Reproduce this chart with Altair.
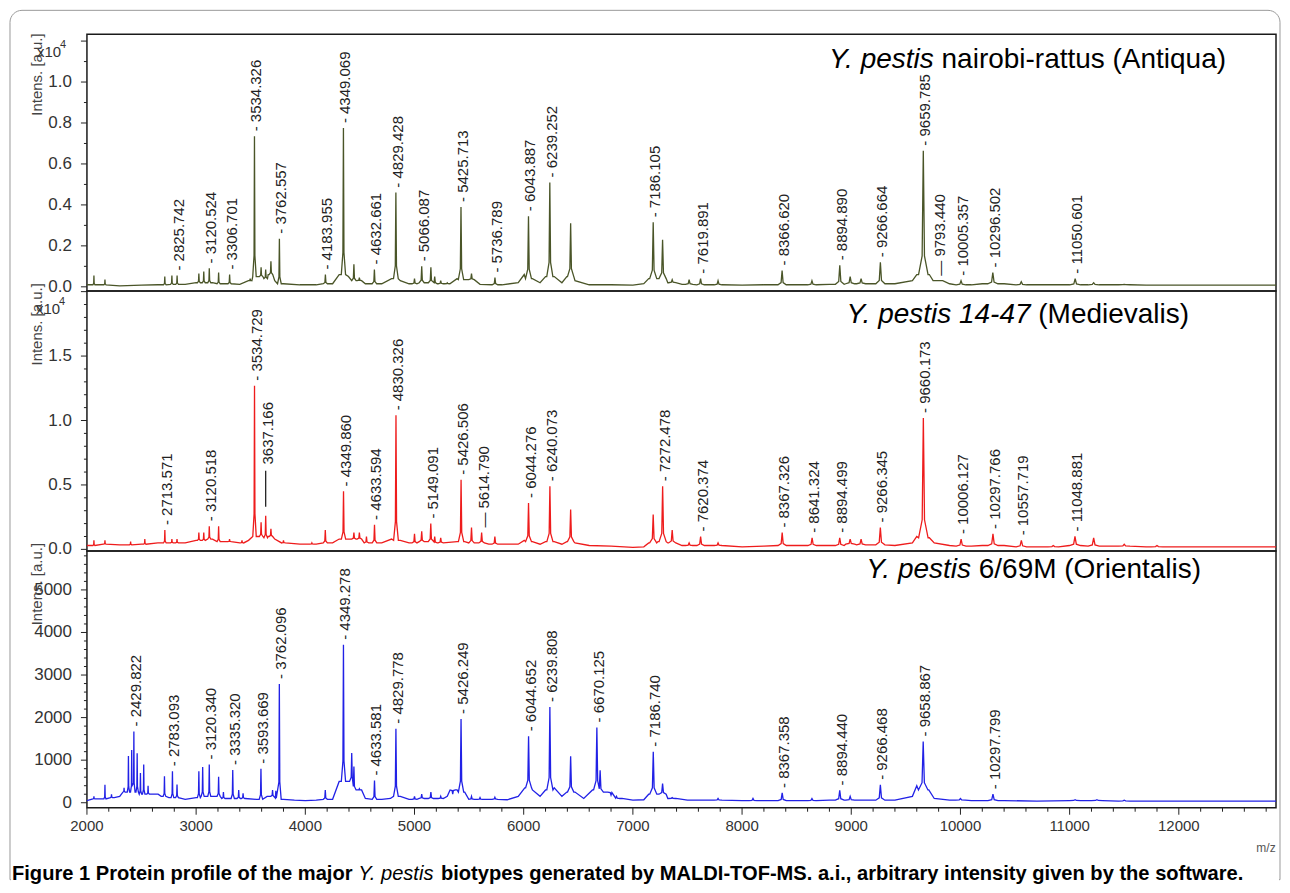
import altair as alt
import pandas as pd

FONT = "Liberation Sans, Arial, Helvetica, sans-serif"
X_DOMAIN = [2000, 12890]
W = 1190

# ---------------- Panel 1: Antiqua (x10^4 a.u.) ----------------
P1_PEAK_MZ = [2064, 2165, 2713, 2778, 2825.742, 3025, 3070, 3120.524, 3206, 3306.701,
              3495, 3534.326, 3595, 3637, 3685, 3762.557, 4183.955, 4349.069, 4445, 4495,
              4632.661, 4829.428, 5000, 5066.087, 5150, 5185, 5240, 5300, 5425.713, 5522,
              5736.789, 6043.887, 6239.252, 6430, 7186.105, 7272, 7360, 7515, 7619.891, 7780,
              8366.620, 8640, 8894.890, 8990, 9090, 9266.664, 9659.785, 9793.440, 10005.357,
              10296.502, 10557, 11050.601, 11220, 11500]
P1_PEAK_I = [0.055, 0.035, 0.05, 0.055, 0.055, 0.065, 0.075, 0.09, 0.07, 0.06,
             0.04, 0.735, 0.095, 0.085, 0.125, 0.235, 0.06, 0.775, 0.11, 0.045,
             0.085, 0.46, 0.04, 0.1, 0.095, 0.05, 0.03, 0.02, 0.39, 0.065,
             0.045, 0.345, 0.51, 0.31, 0.315, 0.23, 0.035, 0.035, 0.04, 0.03,
             0.08, 0.03, 0.105, 0.05, 0.04, 0.12, 0.665, 0.03, 0.03,
             0.07, 0.025, 0.04, 0.02, 0.012]
P1_BASE_MZ = [2000, 2150, 2300, 2500, 2650, 2900, 3000, 3150, 3250, 3400, 3480, 3580, 3620,
              3660, 3720, 3800, 3950, 4100, 4250, 4310, 4395, 4470, 4550, 4700, 4790, 4870,
              4950, 5100, 5250, 5390, 5460, 5600, 5800, 5950, 6005, 6080, 6150, 6200, 6280,
              6350, 6395, 6470, 6600, 6800, 7000, 7100, 7145, 7230, 7320, 7450, 7700, 8000,
              8200, 8500, 8800, 9000, 9200, 9400, 9560, 9600, 9715, 9760, 9900, 10100, 10200,
              10400, 10700, 11000, 11300, 11700, 12100, 12500, 12890]
P1_BASE_I = [0.01, 0.01, 0.005, 0.008, 0.01, 0.012, 0.02, 0.02, 0.015, 0.012, 0.03, 0.05, 0.04,
             0.06, 0.03, 0.015, 0.01, 0.01, 0.015, 0.06, 0.05, 0.03, 0.015, 0.015, 0.04, 0.03,
             0.015, 0.02, 0.015, 0.04, 0.035, 0.012, 0.01, 0.02, 0.06, 0.04, 0.02, 0.05, 0.05,
             0.02, 0.05, 0.03, 0.01, 0.01, 0.008, 0.015, 0.04, 0.04, 0.02, 0.012, 0.01, 0.008,
             0.01, 0.01, 0.012, 0.015, 0.015, 0.015, 0.03, 0.06, 0.06, 0.03, 0.015, 0.01, 0.015,
             0.015, 0.01, 0.01, 0.01, 0.008, 0.008, 0.008, 0.008]
P1_LABELS = ["2825.742", "3120.524", "3306.701", "3534.326", "3762.557", "4183.955",
             "4349.069", "4632.661", "4829.428", "5066.087", "5425.713", "5736.789",
             "6043.887", "6239.252", "7186.105", "7619.891", "8366.620", "8894.890",
             "9266.664", "9659.785", "9793.440", "10005.357", "10296.502", "11050.601"]
P1_YTICKS = [0.0, 0.2, 0.4, 0.6, 0.8, 1.0, 1.2]
P1_YTICK_TEXT = ["0.0", "0.2", "0.4", "0.6", "0.8", "1.0", ""]
P1_YMINOR = [0.1, 0.3, 0.5, 0.7, 0.9, 1.1]

# ---------------- Panel 2: Medievalis (x10^4 a.u.) ----------------
P2_PEAK_MZ = [2064, 2165, 2400, 2530, 2713.571, 2778, 2825, 3025, 3070, 3120.518, 3206, 3306,
              3420, 3534.729, 3595, 3637.166, 3685, 3800, 4060, 4183, 4349.860, 4445, 4495,
              4560, 4633.594, 4830.326, 5000, 5066, 5149.091, 5185, 5240, 5426.506, 5522,
              5614.790, 5736, 6044.276, 6240.073, 6430, 7186, 7272.478, 7360, 7515, 7620.374,
              7780, 8367.326, 8641.324, 8894.499, 8990, 9090, 9266.345, 9660.173, 10006.127,
              10297.766, 10557.719, 10850, 11048.881, 11220, 11500, 11800]
P2_PEAK_I = [0.07, 0.07, 0.06, 0.08, 0.15, 0.08, 0.08, 0.13, 0.13, 0.18, 0.18, 0.08,
             0.07, 1.27, 0.21, 0.26, 0.16, 0.07, 0.05, 0.15, 0.45, 0.13, 0.13,
             0.1, 0.19, 1.04, 0.12, 0.14, 0.2, 0.1, 0.09, 0.54, 0.17,
             0.13, 0.1, 0.36, 0.49, 0.31, 0.27, 0.49, 0.15, 0.05, 0.1,
             0.05, 0.13, 0.09, 0.09, 0.08, 0.08, 0.17, 1.02, 0.08,
             0.12, 0.07, 0.03, 0.1, 0.09, 0.04, 0.03]
P2_BASE_MZ = [2000, 2150, 2300, 2500, 2650, 2900, 3000, 3150, 3260, 3400, 3480, 3580, 3620,
              3660, 3720, 3800, 3950, 4100, 4250, 4310, 4395, 4470, 4550, 4700, 4790, 4870,
              4950, 5100, 5250, 5390, 5460, 5560, 5680, 5800, 5950, 6005, 6080, 6150, 6200,
              6280, 6350, 6395, 6470, 6600, 6800, 7000, 7100, 7145, 7230, 7320, 7450, 7700,
              8000, 8200, 8500, 8800, 9000, 9150, 9400, 9560, 9600, 9715, 9760, 9900, 10100,
              10200, 10400, 10700, 11000, 11300, 11700, 12100, 12500, 12890]
P2_BASE_I = [0.03, 0.04, 0.035, 0.04, 0.05, 0.05, 0.07, 0.08, 0.06, 0.05, 0.07, 0.1, 0.09,
             0.1, 0.08, 0.05, 0.04, 0.04, 0.05, 0.08, 0.08, 0.08, 0.05, 0.05, 0.08, 0.07,
             0.05, 0.06, 0.05, 0.06, 0.06, 0.05, 0.04, 0.04, 0.04, 0.07, 0.06, 0.04, 0.06,
             0.06, 0.04, 0.06, 0.05, 0.03, 0.025, 0.015, 0.02, 0.05, 0.06, 0.05, 0.03, 0.03,
             0.02, 0.025, 0.03, 0.03, 0.04, 0.035, 0.03, 0.05, 0.1, 0.09, 0.05, 0.03, 0.025,
             0.03, 0.03, 0.02, 0.03, 0.025, 0.02, 0.02, 0.02, 0.02]
P2_LABELS = ["2713.571", "3120.518", "3534.729", "3637.166", "4349.860", "4633.594",
             "4830.326", "5149.091", "5426.506", "5614.790", "6044.276", "6240.073",
             "7272.478", "7620.374", "8367.326", "8641.324", "8894.499", "9266.345",
             "9660.173", "10006.127", "10297.766", "10557.719", "11048.881"]
P2_LEADER = {"3637.166": (0.33, 0.62)}   # leader line from / label start (x10^4 a.u.)
P2_YTICKS = [0.0, 0.5, 1.0, 1.5, 2.0]
P2_YTICK_TEXT = ["0.0", "0.5", "1.0", "1.5", ""]
P2_YMINOR = [0.1, 0.2, 0.3, 0.4, 0.6, 0.7, 0.8, 0.9, 1.1, 1.2, 1.3, 1.4, 1.6, 1.7, 1.8, 1.9]

# ---------------- Panel 3: Orientalis (a.u.) ----------------
P3_PEAK_MZ = [2064, 2165, 2225, 2340, 2380, 2410, 2429.822, 2460, 2490, 2520, 2560, 2640,
              2710, 2783.093, 2825, 3025, 3060, 3120.340, 3206, 3250, 3335.320, 3390, 3430,
              3593.669, 3700, 3730, 3762.096, 4183, 4349.278, 4425, 4445, 4495, 4633.581,
              4829.778, 5000, 5066, 5150, 5240, 5350, 5426.249, 5522, 5600, 5736, 6044.652,
              6239.808, 6430, 6670.125, 6700, 6800, 6850, 7186.740, 7272, 7360, 7780, 8100,
              8367.358, 8640, 8894.440, 8990, 9266.468, 9658.867, 10000, 10297.799, 11050,
              11250, 11500]
P3_PEAK_I = [150, 420, 200, 350, 1100, 1240, 1675, 1160, 700, 900, 400, 200,
             620, 740, 430, 740, 840, 900, 610, 250, 770, 300, 220,
             800, 300, 280, 2790, 300, 3710, 1170, 850, 330, 520,
             1740, 150, 200, 250, 150, 200, 1970, 150, 120, 130, 1560,
             2250, 1090, 1770, 760, 180, 150, 1200, 450, 120, 100, 100,
             230, 100, 290, 150, 420, 1440, 100, 200, 70,
             70, 60]
P3_BASE_MZ = [2000, 2100, 2250, 2300, 2350, 2600, 2680, 2750, 2900, 3000, 3100, 3180, 3300,
              3450, 3550, 3650, 3800, 3900, 4000, 4100, 4250, 4310, 4390, 4470, 4550, 4700,
              4780, 4870, 4950, 5100, 5200, 5300, 5390, 5460, 5550, 5700, 5850, 5950, 6010,
              6080, 6150, 6200, 6280, 6350, 6395, 6470, 6550, 6630, 6745, 6900, 7000, 7100,
              7145, 7230, 7320, 7500, 7700, 8000, 8200, 8500, 8800, 9100, 9400, 9560, 9600,
              9710, 9760, 9900, 10100, 10400, 10700, 11000, 11300, 11600, 12000, 12500, 12890]
P3_BASE_I = [50, 90, 120, 150, 250, 200, 150, 120, 80, 120, 150, 150, 100,
             100, 80, 150, 80, 60, 50, 60, 80, 500, 500, 300, 100, 80,
             100, 150, 80, 100, 100, 150, 300, 250, 80, 80, 70, 150, 350,
             300, 150, 300, 350, 150, 250, 250, 100, 300, 250, 100, 60, 70,
             200, 200, 100, 60, 60, 50, 50, 50, 60, 60, 60, 150, 400,
             300, 100, 60, 50, 50, 40, 50, 50, 40, 40, 40, 40]
P3_LABELS = ["2429.822", "2783.093", "3120.340", "3335.320", "3593.669", "3762.096",
             "4349.278", "4633.581", "4829.778", "5426.249", "6044.652", "6239.808",
             "6670.125", "7186.740", "8367.358", "8894.440", "9266.468", "9658.867",
             "10297.799"]
P3_YTICKS = [0, 1000, 2000, 3000, 4000, 5000]
P3_YTICK_TEXT = ["0", "1000", "2000", "3000", "4000", "5000"]
P3_YMINOR = [200, 400, 600, 800, 1200, 1400, 1600, 1800, 2200, 2400, 2600, 2800, 3200, 3400,
             3600, 3800, 4200, 4400, 4600, 4800, 5200, 5400, 5600, 5800]

X_TICKS = [2000, 3000, 4000, 5000, 6000, 7000, 8000, 9000, 10000, 11000, 12000]
X_TICK_TEXT = ["2000", "3000", "4000", "5000", "6000", "7000", "8000", "9000", "10000",
               "11000", "12000"]
X_MINOR = [v for v in range(2200, 12801, 200) if v % 1000 != 0]

LONG_DASH = {"9793.440", "5614.790"}

TITLES = [("Y. pestis", "nairobi-rattus (Antiqua)"),
          ("Y. pestis 14-47", "(Medievalis)"),
          ("Y. pestis", "6/69M (Orientalis)")]
CAPTION = ["Figure 1 Protein profile of the major", "Y. pestis",
           "biotypes generated by MALDI-TOF-MS. a.i., arbitrary intensity given by the software."]

# ---------------- text metrics (Arial / Liberation Sans, per 1000 em) ----------------
REG = {' ': 278, '(': 333, ')': 333, '-': 333, '.': 278, '/': 278, ',': 278, 'A': 667, 'M': 833,
       'O': 778, 'Y': 667, 'a': 556, 'b': 556, 'd': 556, 'e': 556, 'i': 222, 'l': 222,
       'n': 556, 'o': 556, 'p': 556, 'q': 556, 'r': 333, 's': 500, 't': 278, 'u': 556,
       'v': 500}
BOLD = {' ': 278, ',': 278, '-': 333, '.': 278, 'A': 722, 'D': 722, 'F': 611, 'I': 278,
        'L': 611, 'M': 833, 'O': 778, 'P': 667, 'S': 667, 'T': 611, 'Y': 667, 'a': 556,
        'b': 611, 'c': 556, 'd': 611, 'e': 556, 'f': 333, 'g': 611, 'h': 611, 'i': 278,
        'j': 278, 'k': 556, 'l': 278, 'm': 889, 'n': 611, 'o': 611, 'p': 611, 'r': 389,
        's': 556, 't': 333, 'u': 611, 'v': 556, 'w': 778, 'y': 556, 'x': 556}


def em(text, table):
    return sum(table.get(ch, 556) for ch in text) / 1000.0


def spectrum(mz, inten, base_mz, base_i):
    pk = sorted(zip(mz, inten))
    pts = []
    for i, (m, h) in enumerate(pk):
        b = min(zip(base_mz, base_i), key=lambda kv: abs(kv[0] - m))[1]
        w1, w2 = m * 0.0011, m * 0.0045
        dl = m - pk[i - 1][0] if i > 0 else 1e9
        dr = pk[i + 1][0] - m if i + 1 < len(pk) else 1e9
        if w2 < dl / 2:
            pts.append((m - w2, b))
        if w1 < dl / 2:
            pts.append((m - w1, b + 0.15 * (h - b)))
        pts.append((m, h))
        if w1 < dr / 2:
            pts.append((m + w1, b + 0.15 * (h - b)))
        if w2 < dr / 2:
            pts.append((m + w2, b))
    for k, v in zip(base_mz, base_i):
        if all(abs(k - m) > m * 0.0045 + 1 for m in mz):
            pts.append((k, v))
    pts.sort()
    return pd.DataFrame(pts, columns=["mz", "v"])


def note(text, x, y, size, align="left", baseline="alphabetic", style="normal",
         weight="normal", angle=0, color="black"):
    return alt.Chart(pd.DataFrame({"t": [text]})).mark_text(
        align=align, baseline=baseline, fontSize=size, font=FONT, fontStyle=style,
        fontWeight=weight, angle=angle, color=color
    ).encode(x=alt.value(x), y=alt.value(y), text="t:N")


XS = alt.Scale(domain=X_DOMAIN, nice=False, zero=False)


def panel(mz, inten, base_mz, base_i, labels, color, domain, height, yticks, ytext, yminor,
          title, title_right, title_base, ytitle_top, x10=None, leader=None, extra=None):
    ys = alt.Scale(domain=domain, nice=False, zero=False)
    df = spectrum(mz, inten, base_mz, base_i)
    line = alt.Chart(df).mark_line(color=color, strokeWidth=1.3).encode(
        x=alt.X("mz:Q", scale=XS, axis=None), y=alt.Y("v:Q", scale=ys, axis=None))
    tdf = pd.DataFrame({"v": yticks, "t": ytext})
    major = alt.Chart(tdf).mark_rule(color="#222", strokeWidth=1).encode(
        y=alt.Y("v:Q", scale=ys, axis=None), x=alt.value(-6), x2=alt.value(0))
    ylab = alt.Chart(tdf).mark_text(align="right", baseline="middle", font=FONT, fontSize=17,
                                    color="#333").encode(
        y=alt.Y("v:Q", scale=ys, axis=None), x=alt.value(-15), text="t:N")
    minor = alt.Chart(pd.DataFrame({"v": yminor})).mark_rule(color="#222", strokeWidth=1).encode(
        y=alt.Y("v:Q", scale=ys, axis=None), x=alt.value(-3), x2=alt.value(0))
    lookup = dict(zip(mz, inten))
    rows = []
    for lab in labels:
        m = float(lab)
        if leader and lab in leader:
            rows.append({"mz": m, "v": leader[lab][1], "t": lab})
        else:
            dash = "\u2014 " if lab in LONG_DASH else "- "
            rows.append({"mz": m, "v": lookup[m], "t": dash + lab})
    ltxt = alt.Chart(pd.DataFrame(rows)).mark_text(
        angle=270, align="left", baseline="middle", dx=5, dy=2, font=FONT, fontSize=15,
        color="#222").encode(x=alt.X("mz:Q", scale=XS, axis=None),
                             y=alt.Y("v:Q", scale=ys, axis=None), text="t:N")
    layers = [line, major, minor, ylab, ltxt]
    if leader:
        ldf = pd.DataFrame([{"mz": float(k), "v": a, "v2": b - 0.01} for k, (a, b) in leader.items()])
        layers.append(alt.Chart(ldf).mark_rule(color="#111", strokeWidth=1.2).encode(
            x=alt.X("mz:Q", scale=XS, axis=None), y=alt.Y("v:Q", scale=ys, axis=None), y2="v2:Q"))
    it, nm = title
    wn = em(" " + nm, REG) * 28
    layers.append(note(nm, title_right, title_base, 28, align="right"))
    layers.append(note(it, title_right - wn, title_base, 28, align="right", style="italic"))
    layers.append(note("Intens. [a.u.]", -50, ytitle_top, 15, align="right",
                       baseline="middle", angle=270, color="#444"))
    if x10:
        layers.append(note("x10", x10[0], x10[1], 15, align="center", baseline="middle", color="#333"))
        layers.append(note("4", x10[0] + 14, x10[1] - 7, 11, align="center", baseline="middle", color="#333"))
    if extra:
        layers.extend(extra)
    return alt.layer(*layers).properties(width=W, height=height)


# frame of the figure box
box = alt.Chart(pd.DataFrame({"a": [0]})).mark_rect(
    fillOpacity=0, stroke="#9a9a9a", strokeWidth=1, cornerRadiusTopLeft=12,
    cornerRadiusTopRight=12).encode(x=alt.value(-77), x2=alt.value(1194),
                                   y=alt.value(-24), y2=alt.value(846))
cover = alt.Chart(pd.DataFrame({"a": [0]})).mark_rule(color="white", strokeWidth=3).encode(
    x=alt.value(-76), x2=alt.value(1193), y=alt.value(846))

p1 = panel(P1_PEAK_MZ, P1_PEAK_I, P1_BASE_MZ, P1_BASE_I, P1_LABELS, "#4a5528",
           [-0.021, 1.233], 257, P1_YTICKS, P1_YTICK_TEXT, P1_YMINOR, TITLES[0], 1140, 34, -1,
           x10=(-38, 18), extra=[box, cover])
p2 = panel(P2_PEAK_MZ, P2_PEAK_I, P2_BASE_MZ, P2_BASE_I, P2_LABELS, "#ee1c1c",
           [-0.012, 2.004], 260, P2_YTICKS, P2_YTICK_TEXT, P2_YMINOR, TITLES[1], 1103, 32, -8,
           x10=(-39, 18), leader=P2_LEADER)

xdf = pd.DataFrame({"mz": X_TICKS, "t": X_TICK_TEXT})
xmajor = alt.Chart(xdf).mark_rule(color="#222", strokeWidth=1).encode(
    x=alt.X("mz:Q", scale=XS, axis=None), y=alt.value(257), y2=alt.value(264))
xlab = alt.Chart(xdf).mark_text(baseline="middle", align="center", font=FONT, fontSize=15,
                                color="#333").encode(
    x=alt.X("mz:Q", scale=XS, axis=None), y=alt.value(275), text="t:N")
xminor = alt.Chart(pd.DataFrame({"mz": X_MINOR})).mark_rule(color="#222", strokeWidth=1).encode(
    x=alt.X("mz:Q", scale=XS, axis=None), y=alt.value(257), y2=alt.value(261))

cfs = 1233.0 / (em(CAPTION[0] + " ", BOLD) + em(CAPTION[1], REG) + em(" " + CAPTION[2], BOLD))
cx0 = -75
cx1 = cx0 + em(CAPTION[0] + " ", BOLD) * cfs
cx2 = cx1 + em(CAPTION[1] + " ", REG) * cfs
bottom_extra = [
    xmajor, xminor, xlab,
    note(CAPTION[0], cx0, 323, cfs, baseline="middle", weight="bold"),
    note(CAPTION[1], cx1, 323, cfs, baseline="middle", style="italic"),
    note(CAPTION[2], cx2, 323, cfs, baseline="middle", weight="bold"),
    note("m/z", 1180, 297, 12, align="center", baseline="middle", color="#555"),
]
p3 = panel(P3_PEAK_MZ, P3_PEAK_I, P3_BASE_MZ, P3_BASE_I, P3_LABELS, "#2121e6",
           [-117, 5916], 257, P3_YTICKS, P3_YTICK_TEXT, P3_YMINOR, TITLES[2], 1115, 27, -8,
           extra=bottom_extra)

chart = alt.vconcat(p1, p2, p3, spacing=0, bounds="flush").resolve_scale(
    x="independent", y="independent").configure_view(
    stroke="#1a1a1a", strokeWidth=1.5).properties(padding=0, background="white")

chart.save("out.html", embed_options={"renderer": "svg", "actions": False})
